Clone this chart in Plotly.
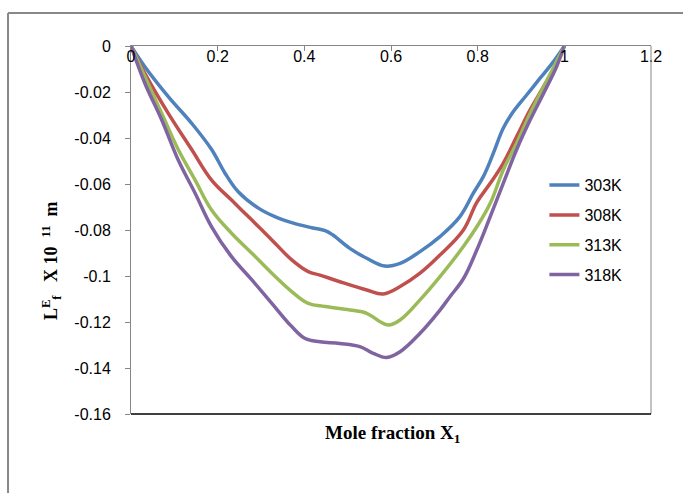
import plotly.graph_objects as go

# Excess free length vs mole fraction at four temperatures
x_303 = [0.0, 0.032, 0.086, 0.14, 0.186, 0.217, 0.248, 0.294, 0.332, 0.371, 0.417, 0.448, 0.466,
         0.505, 0.544, 0.586, 0.621, 0.667, 0.713, 0.759, 0.79, 0.813, 0.836, 0.859, 0.882, 0.913,
         0.944, 0.975, 1.0]
y_303 = [0.0, -0.009, -0.022, -0.0336, -0.045, -0.0553, -0.0635, -0.0705, -0.0742, -0.0768, -0.0790,
         -0.0803, -0.0822, -0.088, -0.0923, -0.0957, -0.0945, -0.0894, -0.0829, -0.0742, -0.064,
         -0.0568, -0.0467, -0.0358, -0.0286, -0.0213, -0.014, -0.0068, 0.0]

x_308 = [0.0, 0.032, 0.086, 0.14, 0.186, 0.232, 0.279, 0.325, 0.371, 0.409, 0.436, 0.482, 0.544,
         0.582, 0.621, 0.667, 0.713, 0.767, 0.798, 0.829, 0.859, 0.89, 0.921, 0.952, 0.982, 1.0]
y_308 = [0.0, -0.0119, -0.0293, -0.045, -0.0583, -0.067, -0.0757, -0.0843, -0.093, -0.0981, -0.0996,
         -0.1025, -0.1061, -0.1078, -0.1046, -0.0988, -0.0909, -0.080, -0.068, -0.0597, -0.051,
         -0.0394, -0.0278, -0.0177, -0.0075, 0.0]

x_313 = [0.0, 0.032, 0.071, 0.109, 0.148, 0.186, 0.232, 0.279, 0.325, 0.371, 0.409, 0.448, 0.505,
         0.544, 0.575, 0.594, 0.621, 0.667, 0.713, 0.767, 0.798, 0.829, 0.859, 0.89, 0.921, 0.952,
         0.982, 1.0]
y_313 = [0.0, -0.0133, -0.0293, -0.045, -0.0583, -0.0713, -0.0814, -0.0901, -0.0988, -0.1068, -0.1119,
         -0.1133, -0.1148, -0.1162, -0.1199, -0.1213, -0.1191, -0.1104, -0.1003, -0.0872, -0.0786,
         -0.0684, -0.0539, -0.0423, -0.0293, -0.0177, -0.0068, 0.0]

x_318 = [0.0, 0.032, 0.071, 0.109, 0.148, 0.186, 0.232, 0.279, 0.325, 0.371, 0.402, 0.436, 0.482,
         0.528, 0.559, 0.59, 0.621, 0.667, 0.713, 0.736, 0.767, 0.798, 0.829, 0.859, 0.89, 0.921,
         0.952, 0.982, 1.0]
y_318 = [0.0, -0.0162, -0.0322, -0.0496, -0.064, -0.0786, -0.0916, -0.1017, -0.1119, -0.122, -0.1272,
         -0.1286, -0.1293, -0.1307, -0.1336, -0.1354, -0.1329, -0.1249, -0.1148, -0.109, -0.1012,
         -0.0887, -0.0742, -0.0597, -0.045, -0.0322, -0.0206, -0.009, 0.0]

series_names = ["303K", "308K", "313K", "318K"]
series_x = [x_303, x_308, x_313, x_318]
series_y = [y_303, y_308, y_313, y_318]
series_colors = ["#4F81BD", "#C0504D", "#9BBB59", "#8064A2"]

x_ticks = [0, 0.2, 0.4, 0.6, 0.8, 1, 1.2]
x_tick_labels = ["0", "0.2", "0.4", "0.6", "0.8", "1", "1.2"]
y_ticks = [0, -0.02, -0.04, -0.06, -0.08, -0.1, -0.12, -0.14, -0.16]
y_tick_labels = ["0", "-0.02", "-0.04", "-0.06", "-0.08", "-0.1", "-0.12", "-0.14", "-0.16"]

fig = go.Figure()
for name, xs, ys, col in zip(series_names, series_x, series_y, series_colors):
    fig.add_trace(go.Scatter(
        x=xs, y=ys, mode="lines", name=name, legendgroup=name,
        line=dict(color=col, width=3.5, shape="spline", smoothing=1.1),
    ))

tick_font = dict(family="Liberation Sans, Arial, sans-serif", size=16, color="#000000")
serif = "Liberation Serif, Times New Roman, serif"

fig.update_layout(
    width=683, height=493,
    margin=dict(l=131, r=32, t=46, b=79),
    paper_bgcolor="white", plot_bgcolor="white",
    showlegend=True,
    legend=dict(
        x=0.795, y=0.668, xanchor="left", yanchor="top",
        font=tick_font, tracegroupgap=6, bgcolor="rgba(0,0,0,0)",
        itemwidth=30,
    ),
    xaxis=dict(
        range=[0, 1.2], side="top", tickvals=x_ticks, ticktext=x_tick_labels,
        ticks="inside", ticklen=5, tickcolor="#868686",
        ticklabelposition="inside", ticklabeloverflow="allow",
        showline=True, linecolor="#868686", linewidth=1,
        showgrid=False, zeroline=False, tickfont=tick_font,
    ),
    yaxis=dict(
        range=[-0.16, 0], tickvals=y_ticks, ticktext=y_tick_labels,
        ticks="outside", ticklen=5, tickcolor="#868686", ticklabelstandoff=11,
        showline=True, linecolor="#868686", linewidth=1,
        showgrid=False, zeroline=False, tickfont=tick_font,
    ),
    shapes=[
        # plot area right and bottom edges
        dict(type="line", xref="paper", yref="paper", x0=1, x1=1, y0=0, y1=1,
             line=dict(color="#868686", width=1)),
        dict(type="line", xref="paper", yref="paper", x0=0, x1=1, y0=0, y1=0,
             line=dict(color="#000000", width=1.5)),
        # outer chart frame
        dict(type="line", xref="paper", yref="paper", x0=-0.2365, x1=-0.2365, y0=-0.3, y1=1.0897,
             line=dict(color="#888888", width=2)),
        dict(type="line", xref="paper", yref="paper", x0=-0.2365, x1=1.2, y0=1.0897, y1=1.0897,
             line=dict(color="#888888", width=2)),
    ],
    annotations=[
        dict(text="<b>Mole fraction X<sub>1</sub></b>", xref="paper", yref="paper",
             x=0.503, y=-0.055, xanchor="center", yanchor="middle", showarrow=False,
             font=dict(family=serif, size=19, color="#000000")),
        dict(text="<b>L<sup>E</sup><sub>f</sub>&nbsp;&nbsp; X 10&nbsp; <sup>11</sup>&nbsp; m</b>",
             xref="paper", yref="paper",
             x=-0.154, y=0.418, xanchor="center", yanchor="middle", showarrow=False,
             textangle=-90, font=dict(family=serif, size=18, color="#000000")),
    ],
)

fig.write_html("out.html")
